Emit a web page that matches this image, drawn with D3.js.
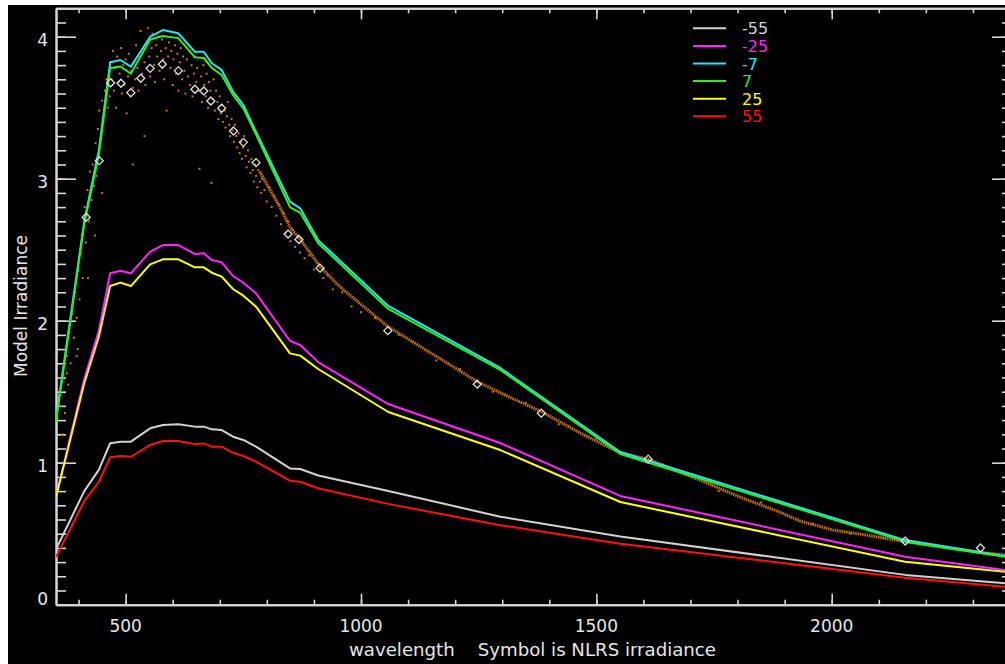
<!DOCTYPE html>
<html>
<head>
<meta charset="utf-8">
<script src="https://cdn.jsdelivr.net/npm/d3@7"></script>
<style>
  html, body { margin: 0; padding: 0; background: #000; }
  svg { display: block; }
  text { font-family: "DejaVu Sans", sans-serif; fill: #e6e6e6; }
</style>
</head>
<body>
<script>
// model wavelengths (nm) shared by every curve
const wavelengths = [352, 412, 443, 467, 489, 511, 552, 579, 612, 647, 666, 683, 704, 728, 750, 777, 849, 871, 909, 1058, 1296, 1551, 2156, 2369];

// model irradiance per latitude
const lat_m55 = [0.39, 0.80, 0.949, 1.137, 1.148, 1.148, 1.242, 1.266, 1.27, 1.254, 1.254, 1.235, 1.23, 1.183, 1.16, 1.113, 0.96, 0.956, 0.91, 0.80, 0.62, 0.48, 0.21, 0.15];
const lat_m25 = [0.76, 1.59, 1.93, 2.334, 2.352, 2.334, 2.486, 2.533, 2.533, 2.47, 2.475, 2.427, 2.411, 2.315, 2.268, 2.193, 1.859, 1.829, 1.709, 1.413, 1.139, 0.766, 0.338, 0.244];
const lat_m7 = [1.31, 2.70, 3.20, 3.82, 3.836, 3.789, 4.00, 4.047, 4.024, 3.894, 3.894, 3.813, 3.766, 3.613, 3.519, 3.33, 2.838, 2.791, 2.567, 2.104, 1.667, 1.075, 0.455, 0.342];
const lat_p7 = [1.29, 2.68, 3.17, 3.78, 3.79, 3.74, 3.98, 4.005, 3.99, 3.855, 3.85, 3.78, 3.73, 3.59, 3.495, 3.31, 2.80, 2.76, 2.546, 2.083, 1.653, 1.061, 0.444, 0.338];
const lat_p25 = [0.76, 1.56, 1.887, 2.244, 2.268, 2.244, 2.397, 2.432, 2.432, 2.376, 2.376, 2.338, 2.31, 2.223, 2.176, 2.099, 1.77, 1.754, 1.66, 1.357, 1.089, 0.723, 0.303, 0.232];
const lat_p55 = [0.335, 0.73, 0.866, 1.038, 1.047, 1.042, 1.125, 1.153, 1.153, 1.132, 1.136, 1.113, 1.113, 1.07, 1.047, 1.007, 0.873, 0.866, 0.82, 0.71, 0.56, 0.43, 0.19, 0.127];

const seriesNames = ['-55', '-25', '-7', '7', '25', '55'];
const seriesColors = ['#d2d2d2', '#ff22ff', '#22e6f0', '#33ee11', '#ffff00', '#ff1010'];

// NLRS symbols (diamonds)
const nlrsWave = [416, 444, 468, 490, 511, 532, 552, 578, 612, 647, 666, 681, 704, 729, 750, 777, 845, 868, 913, 1057, 1247, 1383, 1610, 2156, 2316];
const nlrsValue = [2.728, 3.127, 3.676, 3.672, 3.606, 3.707, 3.777, 3.806, 3.761, 3.63, 3.618, 3.547, 3.496, 3.336, 3.256, 3.113, 2.61, 2.572, 2.37, 1.93, 1.553, 1.349, 1.025, 0.448, 0.399];

// dense NLRS trail (orange) in the infrared, wavelength / value
const trailWave = [785, 807, 828, 849, 871, 892, 913, 955, 998, 1057, 1125, 1189, 1247, 1317, 1383, 1465, 1550, 1610, 1680, 1720, 1805, 1890, 1933, 2003, 2074, 2156, 2252, 2322, 2368];
const trailValue = [3.05, 2.92, 2.80, 2.66, 2.57, 2.48, 2.38, 2.24, 2.12, 1.96, 1.82, 1.69, 1.57, 1.46, 1.36, 1.21, 1.07, 1.025, 0.93, 0.878, 0.758, 0.652, 0.589, 0.526, 0.49, 0.444, 0.397, 0.364, 0.351];

// scattered orange NLRS samples, [wavelength, value]
const nlrsDots = [
  [362, 1.40], [365, 1.20], [368, 1.62], [371, 1.35], [375, 1.75], [375, 1.63], [378, 1.55], [380, 1.92], [383, 1.70],
  [386, 2.05], [390, 1.88], [393, 2.20], [396, 2.02], [396, 1.75], [398, 1.80], [399, 2.35], [402, 2.15], [404, 2.48],
  [407, 2.60], [409, 2.30], [413, 2.80], [416, 2.55], [419, 2.92], [420, 2.30], [422, 2.70], [424, 3.05], [427, 2.85],
  [430, 3.10], [433, 2.95], [435, 2.60], [436, 3.25], [438, 3.02], [441, 3.35], [444, 3.48], [447, 3.28], [450, 3.55],
  [450, 2.90], [453, 3.40], [456, 3.62], [459, 3.70], [462, 3.50],
  [466, 3.58], [468, 3.82], [470, 3.70], [473, 3.90], [475, 3.62], [477, 3.78], [480, 3.50], [482, 3.86], [485, 3.68],
  [487, 3.74], [490, 3.92], [492, 3.60], [495, 3.80], [497, 3.66], [500, 3.84], [502, 3.46], [505, 3.72], [507, 3.88],
  [510, 3.58], [512, 3.76], [515, 3.64], [515, 3.10], [517, 3.82], [520, 3.70], [522, 3.94], [525, 3.78], [527, 3.62],
  [530, 3.86], [532, 4.04], [535, 3.74], [537, 3.92], [540, 3.82], [540, 3.30], [542, 3.66], [545, 3.96], [547, 4.06],
  [550, 3.86], [552, 3.72], [555, 3.92], [557, 4.02], [560, 3.80], [562, 3.68], [565, 3.94], [567, 3.86], [570, 4.00],
  [572, 3.76], [575, 3.90], [577, 3.98], [580, 3.84], [582, 3.70], [585, 3.92], [587, 3.48], [590, 3.86], [592, 3.96],
  [595, 3.78], [597, 3.90], [600, 3.66], [602, 3.84], [605, 3.94], [607, 3.74], [610, 3.88], [612, 3.62], [615, 3.82],
  [617, 3.92], [620, 3.70], [622, 3.86], [625, 3.76], [627, 3.60], [630, 3.84], [632, 3.72], [635, 3.90], [637, 3.66],
  [640, 3.80], [642, 3.58], [645, 3.74], [647, 3.86], [650, 3.68], [652, 3.78], [655, 3.62], [657, 3.07], [660, 3.72],
  [662, 3.54], [665, 3.80], [667, 3.66], [670, 3.58], [672, 3.74], [675, 3.50], [677, 3.68], [680, 3.62], [682, 2.97],
  [685, 3.56], [687, 3.70], [690, 3.48], [692, 3.62], [695, 3.54], [697, 3.42], [700, 3.58], [702, 3.46], [705, 3.52],
  [707, 3.40], [710, 3.48], [712, 3.36], [715, 3.44], [717, 3.54], [720, 3.38], [722, 3.30], [725, 3.42], [727, 3.34],
  [730, 3.26], [732, 3.38], [735, 3.30], [737, 3.22], [740, 3.32], [742, 3.18], [745, 3.26], [747, 3.14], [750, 3.22],
  [752, 3.30], [755, 3.16], [757, 3.08], [760, 3.20], [762, 3.12], [765, 3.04], [767, 3.14], [770, 3.06], [772, 2.98],
  [775, 3.10], [777, 3.02], [780, 2.94], [782, 3.06], [785, 2.98], [788, 2.90], [790, 3.00], [795, 2.92], [800, 2.84],
  [805, 2.94], [810, 2.80], [815, 2.88], [820, 2.74], [825, 2.82], [830, 2.68], [835, 2.76], [840, 2.62], [845, 2.70],
  [850, 2.56], [855, 2.64], [860, 2.52], [865, 2.60], [870, 2.48], [875, 2.56], [880, 2.44], [890, 2.46], [900, 2.36],
  [910, 2.40], [920, 2.30], [930, 2.32], [940, 2.22], [960, 2.20], [980, 2.10], [1000, 2.06], [1030, 2.02], [1080, 1.90],
  [1110, 1.85], [1160, 1.72], [1210, 1.66], [1280, 1.50], [1350, 1.42], [1420, 1.27], [1500, 1.17], [1640, 0.99],
  [1760, 0.80], [1850, 0.72], [1960, 0.57], [2040, 0.50], [2110, 0.47], [2200, 0.42], [2290, 0.38]
];

const xTicksMajor = [500, 1000, 1500, 2000];
const yTicksMajor = [0, 1, 2, 3, 4];

const W = 1005, H = 664;
const svg = d3.select('body').append('svg').attr('width', W).attr('height', H);

// white border at top / left, black plot page
svg.append('rect').attr('width', W).attr('height', H).attr('fill', '#fff');
svg.append('rect').attr('x', 8).attr('y', 5).attr('width', W).attr('height', H).attr('fill', '#000');

const x = d3.scaleLinear().domain([352, 2383]).range([56, 1012]);
const y = d3.scaleLinear().domain([0, 4.2]).range([604.7, 8.3]);

const axisColor = '#d6d6d6';
const minorX = d3.range(400, 2400, 100);
const minorY = d3.range(0, 4.21, 0.1);

svg.append('defs').append('clipPath').attr('id', 'plot')
  .append('rect').attr('x', 56).attr('y', 8.3).attr('width', 956).attr('height', 596.4);

// Axes: ticks only, labels added separately
function styleAxis(g) {
  g.select('.domain').attr('stroke', axisColor).attr('stroke-width', 2);
  g.selectAll('.tick line').attr('stroke', axisColor).attr('stroke-width', 1.6);
  g.selectAll('.tick text').remove();
}

function addAxes(axisFn, translate, values, size) {
  svg.append('g').attr('transform', translate)
    .call(axisFn.tickValues(values).tickSizeInner(size).tickSizeOuter(0).tickFormat(''))
    .call(styleAxis);
}
addAxes(d3.axisBottom(x), 'translate(0,604.7)', minorX, -5);
addAxes(d3.axisBottom(x), 'translate(0,604.7)', xTicksMajor, -11);
addAxes(d3.axisTop(x), 'translate(0,8.3)', minorX, -5);
addAxes(d3.axisTop(x), 'translate(0,8.3)', xTicksMajor, -11);
addAxes(d3.axisLeft(y), 'translate(56,0)', minorY, -10);
addAxes(d3.axisLeft(y), 'translate(56,0)', yTicksMajor, -20);
addAxes(d3.axisRight(y), 'translate(1012,0)', minorY, -10);
addAxes(d3.axisRight(y), 'translate(1012,0)', yTicksMajor, -20);

// tick labels
svg.selectAll('.xlab').data(xTicksMajor).enter().append('text')
  .attr('x', d => x(d)).attr('y', 631.5)
  .attr('text-anchor', 'middle').attr('font-size', 17)
  .text(d => d);
svg.selectAll('.ylab').data(yTicksMajor).enter().append('text')
  .attr('x', 48).attr('y', d => Math.min(y(d) + 8.8, 604.5))
  .attr('text-anchor', 'end').attr('font-size', 17)
  .text(d => d);

// axis titles
svg.append('text')
  .attr('x', 349).attr('y', 656)
  .attr('font-size', 17).attr('textLength', 367).attr('lengthAdjust', 'spacingAndGlyphs')
  .attr('xml:space', 'preserve')
  .style('white-space', 'pre')
  .text('wavelength    Symbol is NLRS irradiance');
svg.append('text')
  .attr('transform', 'translate(27,306) rotate(-90)')
  .attr('text-anchor', 'middle').attr('font-size', 17)
  .text('Model Irradiance');

const plot = svg.append('g').attr('clip-path', 'url(#plot)');

// orange NLRS samples
const orange = '#cc7410';
const trail = trailWave.map((w, i) => [w, trailValue[i]]);
plot.append('path')
  .datum(trail)
  .attr('d', d3.line().x(d => x(d[0])).y(d => y(d[1])))
  .attr('fill', 'none').attr('stroke', orange).attr('stroke-width', 3)
  .attr('stroke-dasharray', '1.5 0.8');
plot.selectAll('.dot')
  .data(nlrsDots)
  .enter().append('rect')
  .attr('x', d => x(d[0]) - 1).attr('y', d => y(d[1]) - 1)
  .attr('width', 2).attr('height', 2).attr('fill', orange);

// model curves
const allSeries = [lat_m55, lat_m25, lat_m7, lat_p7, lat_p25, lat_p55];
const line = d3.line().x((d, i) => x(wavelengths[i])).y(d => y(d));
allSeries.forEach((vals, k) => {
  plot.append('path')
    .datum(vals)
    .attr('d', line)
    .attr('fill', 'none')
    .attr('stroke', seriesColors[k])
    .attr('stroke-width', 2)
    .attr('stroke-linejoin', 'round');
});

// NLRS diamonds
plot.selectAll('.diamond')
  .data(nlrsWave.map((w, i) => [w, nlrsValue[i]]))
  .enter().append('path')
  .attr('transform', d => `translate(${x(d[0])},${y(d[1])})`)
  .attr('d', 'M0,-4L4,0L0,4L-4,0Z')
  .attr('fill', 'none').attr('stroke', '#e0e0e0').attr('stroke-width', 1.3);

// legend
const legend = svg.append('g');
seriesNames.forEach((name, k) => {
  const ly = 28.3 + k * 17.6;
  legend.append('line')
    .attr('x1', 693).attr('x2', 726).attr('y1', ly).attr('y2', ly)
    .attr('stroke', seriesColors[k]).attr('stroke-width', 2);
  legend.append('text')
    .attr('x', 742).attr('y', ly + 6)
    .attr('font-size', 16)
    .style('fill', seriesColors[k])
    .text(name);
});
</script>
</body>
</html>
